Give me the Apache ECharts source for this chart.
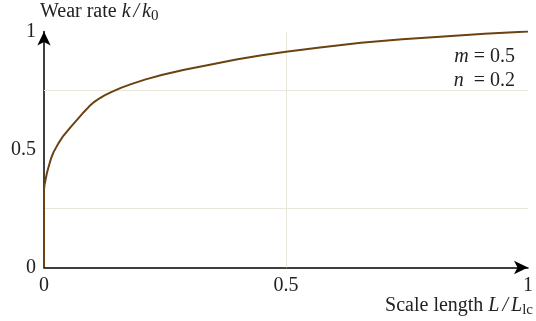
<!DOCTYPE html>
<html><head><meta charset="utf-8">
<script src="https://cdn.jsdelivr.net/npm/echarts@6/dist/echarts.min.js"></script>
<style>html,body{margin:0;padding:0;background:#fff}#c{width:536px;height:321px}</style>
</head><body><div id="c"></div>
<script>
var xValues = [0, 0, 0.001, 0.003, 0.006, 0.01, 0.015, 0.02, 0.03, 0.04, 0.055, 0.07, 0.082, 0.094, 0.104, 0.114, 0.125, 0.14, 0.16, 0.18, 0.21, 0.245, 0.29, 0.34, 0.4, 0.45, 0.5, 0.57, 0.655, 0.74, 0.826, 0.91, 1.0];
var yValues = [0, 0.33, 0.35, 0.37, 0.40, 0.43, 0.465, 0.49, 0.527, 0.558, 0.595, 0.630, 0.658, 0.684, 0.702, 0.716, 0.729, 0.744, 0.762, 0.777, 0.797, 0.817, 0.838, 0.858, 0.882, 0.899, 0.914, 0.932, 0.952, 0.967, 0.979, 0.99, 1.0];
var xTicks = [0, 0.5, 1];
var yTicks = [0, 0.5, 1];
var xGridLines = [0.5];
var yGridLines = [0.25, 0.75];

var FONT = '"Liberation Serif", "DejaVu Serif", serif';
var chart = echarts.init(document.getElementById('c'));
var data = xValues.map(function (x, i) { return [x, yValues[i]]; });
function fmt(v){ return (v===0.5)?'0.5':String(v); }
var rich = {
  a: { fontFamily: FONT, fontSize: 20, fill: '#222' },
  i: { fontFamily: FONT, fontSize: 20, fontStyle: 'italic', fill: '#222' },
  sl: { fontFamily: FONT, fontSize: 20, fontStyle: 'italic', fill: '#222', padding: [0, 3, 0, 3] },
  s: { fontFamily: FONT, fontSize: 15, fill: '#222', padding: [9, 0, 0, 0] }
};
chart.setOption({
  animation: false,
  grid: { left: 44, right: 5, top: 31.5, bottom: 53.5 },
  xAxis: {
    type: 'value', min: 0, max: 1, interval: 0.5,
    axisLine: { show: true, symbol: ['none', 'arrow'], symbolSize: [10, 14], lineStyle: { color: '#000', width: 1.5 } },
    axisTick: { show: false },
    splitLine: { show: false },
    axisLabel: { fontFamily: FONT, fontSize: 20, color: '#222', margin: 8,
      formatter: function (v) { return xTicks.indexOf(v) >= 0 ? fmt(v) : ''; } }
  },
  yAxis: {
    type: 'value', min: 0, max: 1, interval: 0.5,
    axisLine: { show: true, symbol: ['none', 'arrow'], symbolSize: [10, 14], lineStyle: { color: '#000', width: 1.5 } },
    axisTick: { show: false },
    splitLine: { show: false },
    axisLabel: { fontFamily: FONT, fontSize: 20, color: '#222', margin: 8,
      formatter: function (v) { return yTicks.indexOf(v) >= 0 ? fmt(v) : ''; } }
  },
  series: [
    { type: 'line', data: data, showSymbol: false, smooth: false, z: 5,
      lineStyle: { color: '#6b4210', width: 2 } },
    { type: 'line', data: [], z: 1,
      markLine: { silent: true, symbol: 'none', label: { show: false },
        lineStyle: { color: '#ebe6dc', width: 1, type: 'solid' },
        data: xGridLines.map(function (v) { return { xAxis: v }; })
          .concat(yGridLines.map(function (v) { return { yAxis: v }; })) } }
  ],
  graphic: [
    { type: 'text', left: 40, top: 2, style: {
        text: '{a|Wear rate }{i|k}{sl|/}{i|k}{s|0}', rich: rich } },
    { type: 'text', right: 3, top: 296, style: {
        text: '{a|Scale length }{i|L}{sl|/}{i|L}{s|lc}', rich: rich } },
    { type: 'text', right: 21, top: 47, style: {
        text: '{i|m}{a| = 0.5}', rich: rich } },
    { type: 'text', right: 21, top: 71, style: {
        text: '{i|n}{a|  = 0.2}', rich: rich } }
  ]
});
</script></body></html>
